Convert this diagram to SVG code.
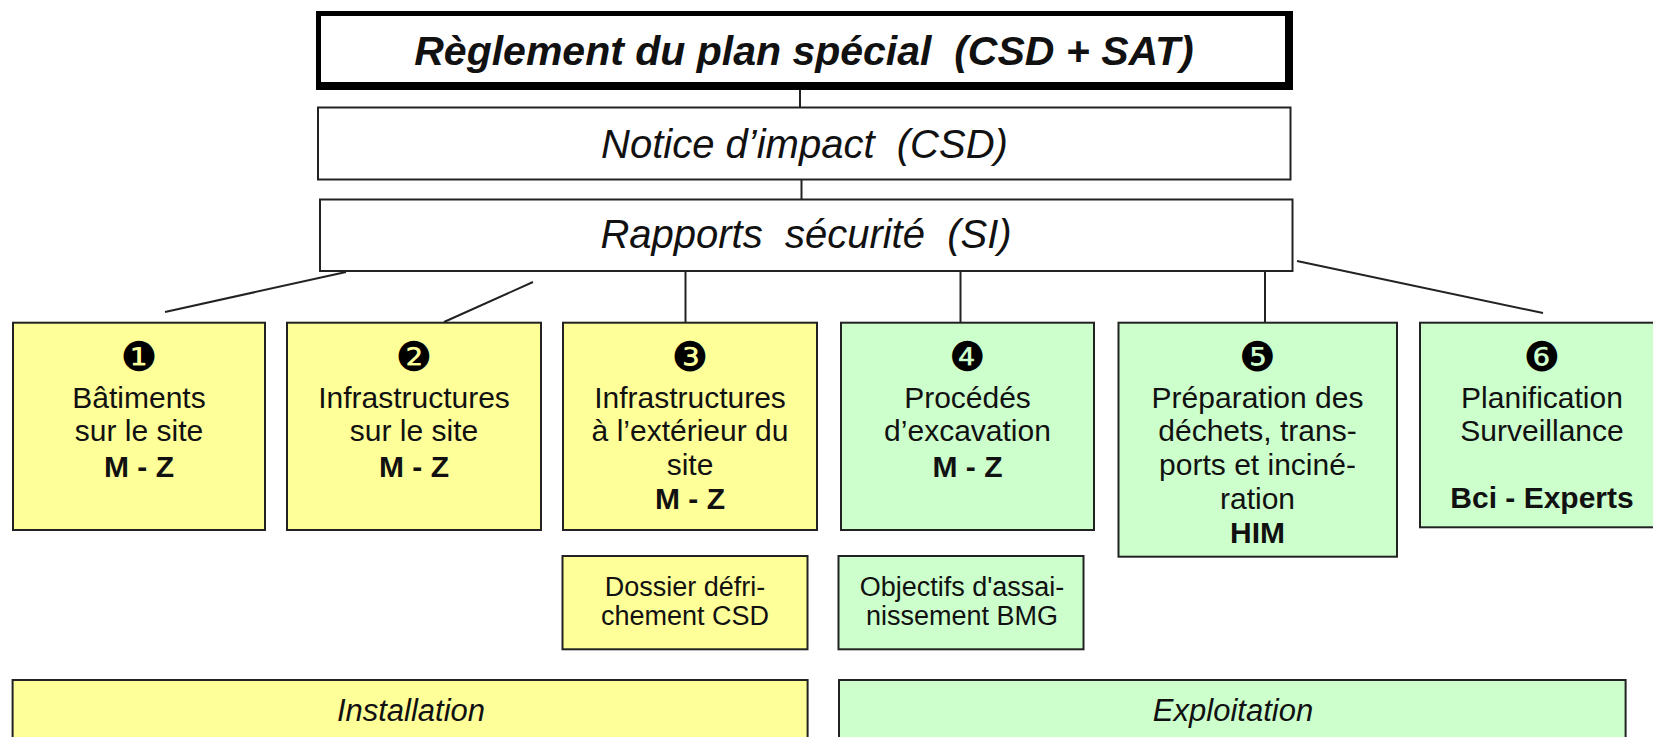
<svg xmlns="http://www.w3.org/2000/svg" width="1653" height="737" viewBox="0 0 1653 737">
<style>
text{font-family:"Liberation Sans",Arial,sans-serif;fill:#111;text-anchor:middle}
.hd{font-style:italic;font-size:40px}
.ttl{font-style:italic;font-weight:bold;font-size:41px}
.bx{font-size:30px}
.b{font-weight:bold}
.sm{font-size:27px}
.ph{font-style:italic;font-size:31px}
.num{font-family:"DejaVu Sans",sans-serif;font-size:41px;fill:#000}
.y{fill:#FFFF99;stroke:#222;stroke-width:2}
.g{fill:#CCFFCC;stroke:#222;stroke-width:2}
.w{fill:#fff;stroke:#222;stroke-width:2}
.c line{stroke:#222;stroke-width:2}
</style>
<g class="c" id="connectors">
<line x1="800" y1="86" x2="800" y2="107"/>
<line x1="801.5" y1="179" x2="801.5" y2="199"/>
<line x1="346" y1="272" x2="165" y2="312"/>
<line x1="533" y1="282" x2="444" y2="322"/>
<line x1="685.5" y1="271" x2="685.5" y2="323"/>
<line x1="960.5" y1="271" x2="960.5" y2="323"/>
<line x1="1265" y1="271" x2="1265" y2="323"/>
<line x1="1297" y1="261" x2="1543" y2="313"/>
</g>
<g id="reglement">
<rect x="316" y="11" width="977" height="79" fill="#000"/>
<rect x="321" y="16" width="964" height="66" fill="#fff"/>
<text class="ttl" x="804" y="65" xml:space="preserve">Règlement du plan spécial  (CSD + SAT)</text>
</g>
<g id="notice">
<rect class="w" x="318" y="107.5" width="972.5" height="72"/>
<text class="hd" x="804.5" y="158" xml:space="preserve">Notice d’impact  (CSD)</text>
</g>
<g id="rapports">
<rect class="w" x="320" y="199.5" width="972.5" height="71.5"/>
<text class="hd" x="806" y="248" xml:space="preserve">Rapports  sécurité  (SI)</text>
</g>
<g id="n1">
<rect class="y" x="13" y="322.7" width="252" height="207.3"/>
<text class="num" x="139" y="371">❶</text>
<text class="bx" x="139" y="408">Bâtiments</text>
<text class="bx" x="139" y="441">sur le site</text>
<text class="bx b" x="139" y="476.7">M - Z</text>
</g>
<g id="n2">
<rect class="y" x="287" y="322.7" width="254" height="207.3"/>
<text class="num" x="414" y="371">❷</text>
<text class="bx" x="414" y="408">Infrastructures</text>
<text class="bx" x="414" y="441">sur le site</text>
<text class="bx b" x="414" y="476.7">M - Z</text>
</g>
<g id="n3">
<rect class="y" x="563" y="322.7" width="254" height="207.3"/>
<text class="num" x="690" y="371">❸</text>
<text class="bx" x="690" y="408">Infrastructures</text>
<text class="bx" x="690" y="441">à l’extérieur du</text>
<text class="bx" x="690" y="474.5">site</text>
<text class="bx b" x="690" y="509.3">M - Z</text>
</g>
<g id="n4">
<rect class="g" x="841" y="322.7" width="253" height="207.3"/>
<text class="num" x="967.5" y="371">❹</text>
<text class="bx" x="967.5" y="408">Procédés</text>
<text class="bx" x="967.5" y="441">d’excavation</text>
<text class="bx b" x="967.5" y="476.7">M - Z</text>
</g>
<g id="n5">
<rect class="g" x="1118.5" y="322.7" width="278.5" height="234"/>
<text class="num" x="1257.5" y="371">❺</text>
<text class="bx" x="1257.5" y="408">Préparation des</text>
<text class="bx" x="1257.5" y="441">déchets, trans-</text>
<text class="bx" x="1257.5" y="474.5">ports et inciné-</text>
<text class="bx" x="1257.5" y="508.5">ration</text>
<text class="bx b" x="1257.5" y="542.7">HIM</text>
</g>
<g id="n6">
<rect class="g" x="1420" y="322.7" width="246" height="204.6"/>
<text class="num" x="1542" y="371">❻</text>
<text class="bx" x="1542" y="408">Planification</text>
<text class="bx" x="1542" y="441">Surveillance</text>
<text class="bx b" x="1542" y="508.3">Bci - Experts</text>
</g>
<g id="n7">
<rect class="y" x="562.5" y="556" width="245" height="93.3"/>
<text class="sm" x="685" y="596">Dossier défri-</text>
<text class="sm" x="685" y="625">chement CSD</text>
</g>
<g id="n8">
<rect class="g" x="838.5" y="556" width="245" height="93.3"/>
<text class="sm" x="962" y="596">Objectifs d'assai-</text>
<text class="sm" x="962" y="625">nissement BMG</text>
</g>
<g id="installation">
<rect class="y" x="12.6" y="680" width="795" height="70"/>
<text class="ph" x="411" y="720.7">Installation</text>
</g>
<g id="exploitation">
<rect class="g" x="839" y="680" width="786.6" height="70"/>
<text class="ph" x="1233" y="720.7">Exploitation</text>
</g>
</svg>
